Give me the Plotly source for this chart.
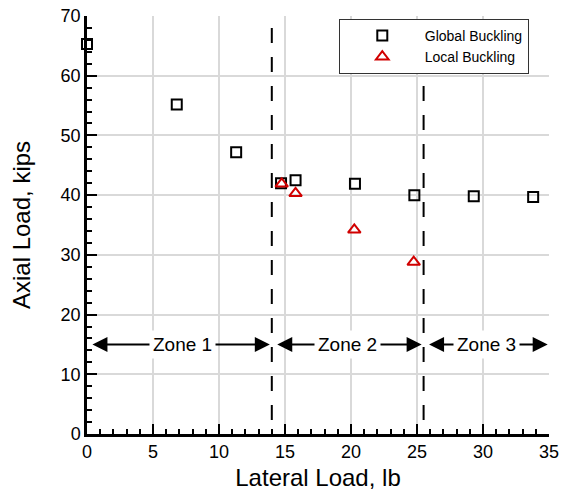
import plotly.graph_objects as go

# Data
global_x = [0.0, 6.8, 11.3, 14.7, 15.8, 20.3, 24.8, 29.3, 33.8]
global_y = [65.3, 55.2, 47.2, 42.0, 42.5, 41.9, 40.0, 39.8, 39.7]
local_x = [14.75, 15.8, 20.25, 24.75]
local_y = [41.9, 40.3, 34.2, 28.8]

zone_bounds = [0, 14, 25.5, 35]
zone_labels = ["Zone 1", "Zone 2", "Zone 3"]
zone_centers = [7.25, 19.75, 30.3]
zone_y = 15
dash_top = 68

x_ticks = [0, 5, 10, 15, 20, 25, 30, 35]
y_ticks = [0, 10, 20, 30, 40, 50, 60, 70]

FONT = "Liberation Sans, Arial, Helvetica, sans-serif"

fig = go.Figure()
fig.add_trace(go.Scatter(
    x=global_x, y=global_y, mode="markers", name="Global Buckling",
    marker=dict(symbol="square-open", size=10, color="black", line=dict(width=2, color="black")),
    cliponaxis=False,
))
fig.add_trace(go.Scatter(
    x=local_x, y=local_y, mode="markers", name="Local Buckling",
    marker=dict(symbol="triangle-up-open", size=11, color="#d10000", line=dict(width=2, color="#d10000")),
    cliponaxis=False,
))

# dashed zone boundaries (drawn from the top so the dash pattern starts there)
for xb in zone_bounds[1:-1]:
    fig.add_shape(type="line", x0=xb, x1=xb, y0=dash_top, y1=0, xref="x", yref="y",
                  line=dict(color="black", width=2, dash="15px,14px"), layer="above")

annotations = []
for i, lab in enumerate(zone_labels):
    a, b = zone_bounds[i], zone_bounds[i + 1]
    x0 = a + 0.3
    x1 = b - (0.15 if i < 2 else 0.1)
    annotations.append(dict(
        x=x1, y=zone_y, ax=x0, ay=zone_y, xref="x", yref="y", axref="x", ayref="y",
        text="", showarrow=True, arrowhead=2, arrowside="end+start", arrowsize=1.5,
        arrowwidth=2, arrowcolor="black", standoff=0, startstandoff=0,
    ))
for c, lab in zip(zone_centers, zone_labels):
    annotations.append(dict(
        x=c, y=zone_y, xref="x", yref="y", text=lab, showarrow=False,
        bgcolor="white", borderpad=3, font=dict(size=19, color="black", family=FONT),
    ))

fig.update_layout(
    width=561, height=495,
    margin=dict(l=87, r=12, t=16, b=61),
    paper_bgcolor="white", plot_bgcolor="white",
    font=dict(family=FONT, color="black"),
    annotations=annotations,
    showlegend=True,
    legend=dict(
        x=0.545, y=0.993, xanchor="left", yanchor="top",
        bgcolor="white", bordercolor="#333333", borderwidth=1,
        font=dict(size=14, family=FONT, color="black"),
        itemwidth=75, tracegroupgap=0,
    ),
    xaxis=dict(
        range=[0, 35], tickvals=x_ticks, ticktext=[str(v) for v in x_ticks],
        showgrid=True, gridcolor="#d9d9d9", gridwidth=2, zeroline=False,
        showline=True, linecolor="black", linewidth=2.5, automargin=False,
        ticks="inside", ticklen=10, tickwidth=2, tickcolor="black",
        ticklabeloverflow="allow",
        minor=dict(dtick=1, ticks="inside", ticklen=5, tickwidth=1.5, tickcolor="black", showgrid=False),
        tickfont=dict(size=18, family=FONT, color="black"),
        title=dict(text="Lateral Load, lb", font=dict(size=24, family=FONT, color="black"), standoff=8),
    ),
    yaxis=dict(
        range=[0, 70], tickvals=y_ticks, ticktext=[str(v) for v in y_ticks],
        showgrid=True, gridcolor="#d9d9d9", gridwidth=2, zeroline=False,
        showline=True, linecolor="black", linewidth=2.5, automargin=False,
        ticks="inside", ticklen=10, tickwidth=2, tickcolor="black",
        ticklabeloverflow="allow",
        minor=dict(dtick=2, ticks="inside", ticklen=5, tickwidth=1.5, tickcolor="black", showgrid=False),
        tickfont=dict(size=18, family=FONT, color="black"),
        title=dict(text="Axial Load, kips", font=dict(size=24, family=FONT, color="black"), standoff=24),
    ),
)

# remove the browser's default body margin so the figure fills the window exactly
fig.write_html(
    "out.html",
    config={"displayModeBar": False},
    post_script="document.body.style.margin='0';document.body.style.overflow='hidden';",
)
